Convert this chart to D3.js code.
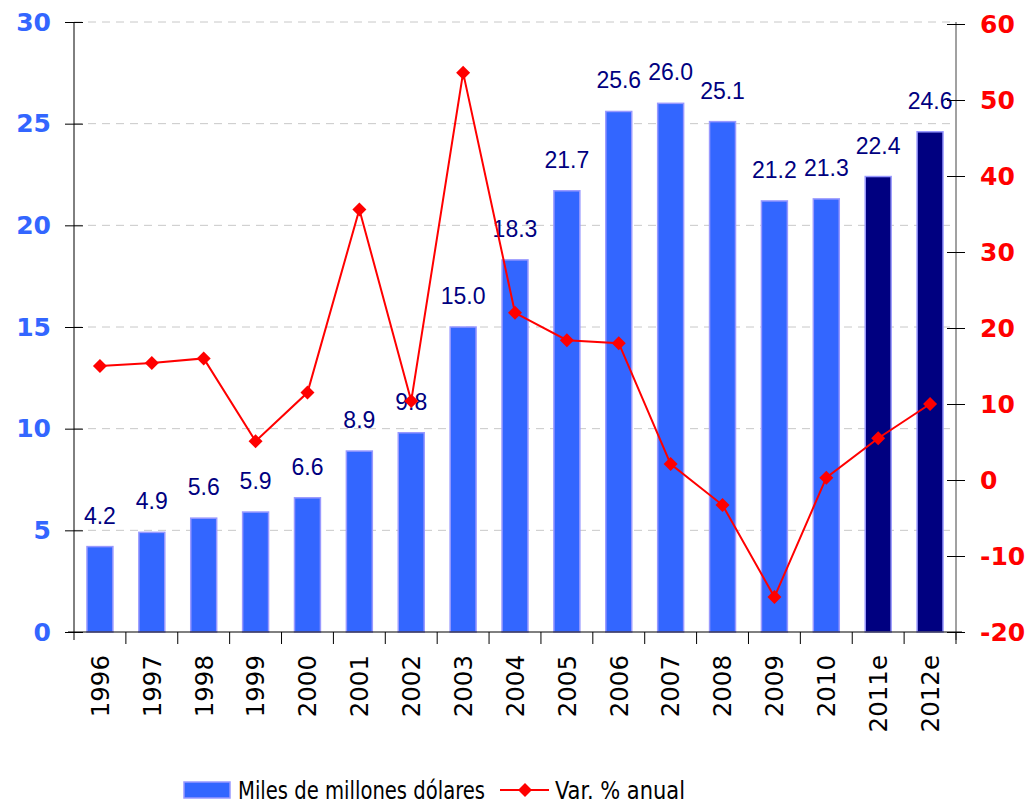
<!DOCTYPE html>
<html>
<head>
<meta charset="utf-8">
<script src="https://cdn.jsdelivr.net/npm/d3@7"></script>
<style>
  body { margin: 0; background: #fff; }
  text { font-family: "DejaVu Sans", Verdana, sans-serif; }
</style>
</head>
<body>
<script>
// datos
const years = ["1996","1997","1998","1999","2000","2001","2002","2003","2004","2005","2006","2007","2008","2009","2010","2011e","2012e"];
const miles = [4.2,4.9,5.6,5.9,6.6,8.9,9.8,15.0,18.3,21.7,25.6,26.0,25.1,21.2,21.3,22.4,24.6];
const varAnual = [15.0,15.4,16.0,5.1,11.5,35.6,10.4,53.6,22.0,18.4,18.0,2.1,-3.3,-15.4,0.3,5.5,10.0];
const estimados = ["2011e","2012e"];
const leftTicks = [0,5,10,15,20,25,30];
const rightTicks = [-20,-10,0,10,20,30,40,50,60];

const W = 1030, H = 804;
const mLeft = 74, mRight = 956, mTop = 22, mBottom = 632;

const svg = d3.select("body").append("svg").attr("width", W).attr("height", H);

const x = d3.scaleBand().domain(years).range([mLeft, mRight]).padding(0);
const yL = d3.scaleLinear().domain([0, 30]).range([mBottom, mTop]);
const yR = d3.scaleLinear().domain([-20, 60]).range([mBottom, mTop + 2]);

// grid
svg.selectAll("line.grid")
  .data(leftTicks.filter(d => d > 0))
  .enter().append("line")
    .attr("x1", mLeft).attr("x2", mRight)
    .attr("y1", d => yL(d)).attr("y2", d => yL(d))
    .attr("stroke", "#c8c8c8").attr("stroke-width", 1)
    .attr("stroke-dasharray", "8,6");

// barras
const bw = x.bandwidth() * 0.5;
svg.selectAll("rect.bar")
  .data(miles)
  .enter().append("rect")
    .attr("x", (d, i) => x(years[i]) + (x.bandwidth() - bw) / 2)
    .attr("y", d => yL(d))
    .attr("width", bw)
    .attr("height", d => mBottom - yL(d))
    .attr("fill", (d, i) => estimados.includes(years[i]) ? "#000080" : "#3366ff")
    .attr("stroke", "#9999ff")
    .attr("stroke-width", 1.5);

// etiquetas de barras
svg.selectAll("text.lbl")
  .data(miles)
  .enter().append("text")
    .attr("x", (d, i) => x(years[i]) + x.bandwidth() / 2)
    .attr("y", d => yL(d) - 23)
    .attr("text-anchor", "middle")
    .style("font-family", "'Liberation Sans', Arial, sans-serif")
    .style("font-size", "23px")
    .attr("fill", "#000080")
    .text(d => d.toFixed(1));

// eje izquierdo
const gL = svg.append("g").attr("transform", `translate(${mLeft},0)`)
  .call(d3.axisLeft(yL).tickValues(leftTicks).tickSize(9).tickPadding(14));
gL.select(".domain").attr("d", `M0,${mTop}V${mBottom + 8}`).attr("stroke", "#000");
gL.selectAll(".tick line").attr("x1", 9).attr("stroke", "#000");
gL.selectAll(".tick text")
  .attr("fill", "#3366ff")
  .style("font-size", "25px").style("font-weight", "bold");

// eje derecho (guion normal, no signo menos)
const gR = svg.append("g").attr("transform", `translate(${mRight},0)`)
  .call(d3.axisRight(yR).tickValues(rightTicks).tickFormat(d => String(d)).tickSize(9).tickPadding(15));
gR.select(".domain").attr("d", `M0,${mTop}V${mBottom + 8}`).attr("stroke", "#444");
gR.selectAll(".tick line").attr("x1", -9).attr("stroke", "#000");
gR.selectAll(".tick text")
  .attr("fill", "#ff0000")
  .style("font-size", "25px").style("font-weight", "bold");

// eje x
const gX = svg.append("g").attr("transform", `translate(0,${mBottom})`)
  .call(d3.axisBottom(x).tickSize(0).tickPadding(0));
gX.select(".domain").attr("d", `M${mLeft - 6},0H${mRight + 6}`).attr("stroke", "#000");
gX.selectAll(".tick text")
  .attr("transform", "rotate(-90)")
  .attr("text-anchor", "end")
  .attr("x", -23).attr("y", 0).attr("dy", "0.36em")
  .attr("fill", "#000")
  .style("font-size", "24.5px");
svg.selectAll("line.xt")
  .data(years.slice(1).concat([null]))
  .enter().append("line")
    .attr("x1", d => d ? x(d) : mRight).attr("x2", d => d ? x(d) : mRight)
    .attr("y1", mBottom).attr("y2", mBottom + 12)
    .attr("stroke", "#000");

// linea variacion
const line = d3.line()
  .x((d, i) => x(years[i]) + x.bandwidth() / 2)
  .y(d => yR(d));
svg.append("path")
  .datum(varAnual)
  .attr("d", line)
  .attr("fill", "none")
  .attr("stroke", "#ff0000")
  .attr("stroke-width", 2);

const diamond = "M0,-7L7,0L0,7L-7,0Z";
svg.selectAll("path.mk")
  .data(varAnual)
  .enter().append("path")
    .attr("d", diamond)
    .attr("transform", (d, i) => `translate(${x(years[i]) + x.bandwidth() / 2},${yR(d)})`)
    .attr("fill", "#ff0000");

// leyenda
const lg = svg.append("g");
lg.append("rect").attr("x", 184).attr("y", 782).attr("width", 46).attr("height", 16)
  .attr("fill", "#3366ff").attr("stroke", "#9999ff").attr("stroke-width", 1.5);
lg.append("text").attr("x", 238).attr("y", 799)
  .style("font-family", "'DejaVu Sans Condensed', 'Liberation Sans Narrow', sans-serif")
  .style("font-size", "24px")
  .attr("textLength", 247).attr("lengthAdjust", "spacingAndGlyphs")
  .text("Miles de millones dólares");
lg.append("line").attr("x1", 500).attr("x2", 549).attr("y1", 790).attr("y2", 790)
  .attr("stroke", "#ff0000").attr("stroke-width", 2);
lg.append("path").attr("d", diamond).attr("transform", "translate(525,790)").attr("fill", "#ff0000");
lg.append("text").attr("x", 555).attr("y", 799)
  .style("font-family", "'DejaVu Sans Condensed', 'Liberation Sans Narrow', sans-serif")
  .style("font-size", "24px")
  .attr("textLength", 130).attr("lengthAdjust", "spacingAndGlyphs")
  .text("Var. % anual");
</script>
</body>
</html>
